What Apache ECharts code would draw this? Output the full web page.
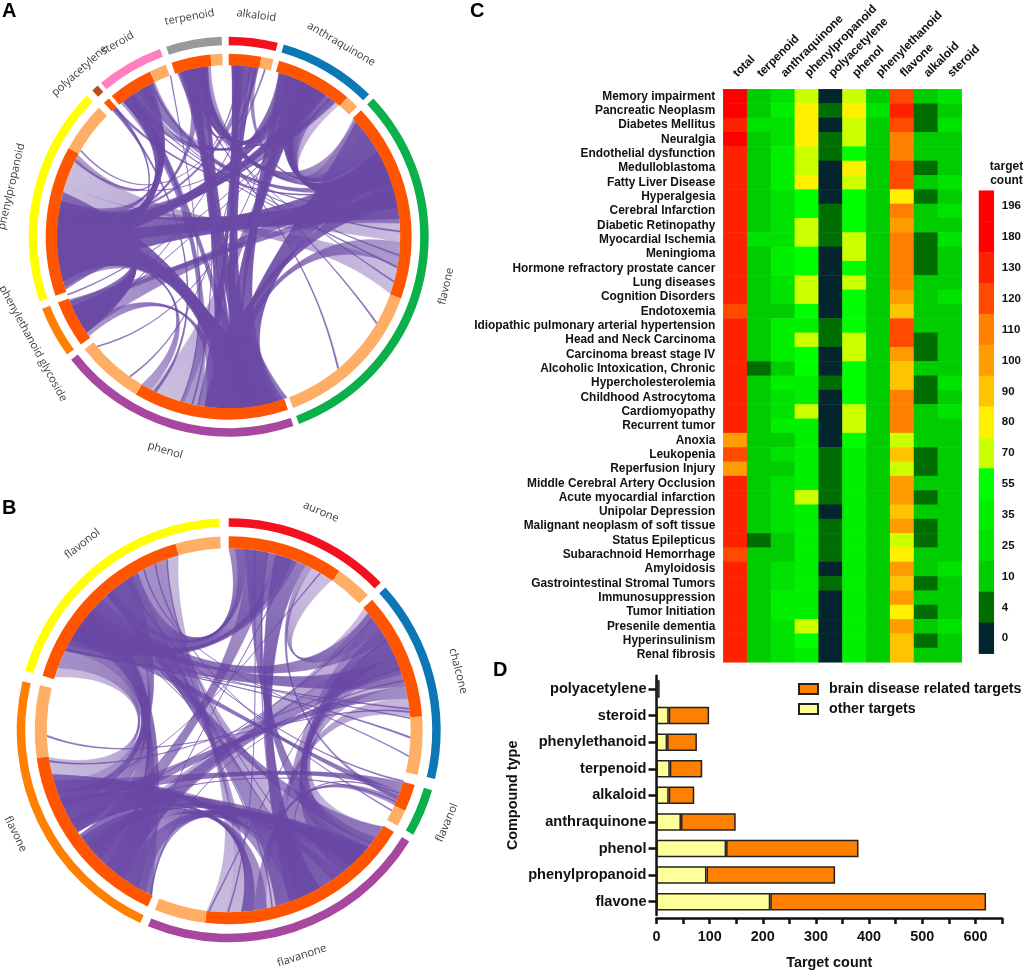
<!DOCTYPE html>
<html><head><meta charset="utf-8">
<style>html,body{margin:0;padding:0;background:#fff}#c{width:1024px;height:971px}</style>
<script src="https://cdn.jsdelivr.net/npm/echarts@6/dist/echarts.min.js"></script>
</head><body><div id="c"></div>
<script>
// ---- Panel A / B rings: spans read in degrees of the ring, clockwise from 12 o'clock
const groupsA = ['alkaloid','anthraquinone','flavone','phenol','phenylethanoid glycoside','phenylpropanoid','polyacetylene','steroid','terpenoid'];
const brainSpanA = [10.3,24.4,63.4,49.4,15,47.8,2.1,14.2,12.5];
const otherSpanA = [3.9,4.2,49.7,21.5,0,15.8,0,5.4,3.7];
const gapSpanA = [1.8,1.7,1.7,1.9,2.3,2.2,1.2,1.9,2];
const colorsA = ['#f5101f','#0b78b5','#0bb04a','#a8479f','#ff7f00','#ffff00','#b5501e','#ff7fc0','#999999'];

const groupsB = ['aurone','chalcone','flavanol','flavanone','flavone','flavonol'];
const brainSpanB = [34.8,38.2,8.1,65.4,57.1,57.8];
const otherSpanB = [11,17.4,5,15.4,21.6,13.4];
const gapSpanB = [1.9,3.1,2.1,2.3,2.9,2.5];
const colorsB = ['#f5101f','#0b78b5','#0bb04a','#a8479f','#ff7f00','#ffff00'];

// Shared-target ribbons: [from start, from end, to start, to end, density 1-3], read by eye
const linksA = [
 [46.5,52,34,40,1],[52,58,26,34,2],[58,61,8,10,2],[61,65,349,354,2],[65,69,329,334.5,2],[69,70,318,319,3],
 [70,85.5,264,282,3],[85.5,92,282,288,1],[92,100,172,180,2],[100,109.5,288,297,1],
 [47,60,345,352,2],[60,72,20,30,3],[72,80,182,188,3],
 [48,70,163,182,3],[62,84,256,272,3],[28,38,268,280,2],[18,30,345,352,2],[345,353,160,172,3],[2,9,165,178,3],
 [322,333,255,270,3],[255,262,165,172,3],[236,248,262,272,3],[236,246,60,70,2],[260,285,168,178,3],[22,36,60,72,2],
 [17,26,161.5,172,3],[180,186,343,348,3],[186,190,1,5,3],[190,196,321,326,2],[195,207,26,30,1],
 [207,210.5,253,257,2],[234.5,239,182,188,2],[239,244,258,264,3],[244,248.5,74,80,2],
 [264,270,28,34,3],[270,274,345,349,2],[274,277,5,8,2],[277,282,326,330,2],[296.5,298.5,330,332,2],
 [329,334,30,34,1],[350,353,36,38,2],[342.5,345,9,10,2],[323,327,20,24,2],[252,262,236,246,3],[255,275,166,184,3],
 [17,24,265,275,3],[22,30,172,182,3],[1,4,170,176,3],[344,348,174,180,3],[322,326,170,176,2],[262,270,174,182,3],
 [347,347.6,165,165.6,3],[352,352.5,192,192.5,3],[322,322.6,100,100.6,3],[325,325.5,88,88.5,3],[333,333.6,78,78.6,3],
 [317.3,318.3,205,206,3],[318,319,255,256,3],[38,38.5,272,272.5,3],[36,36.5,240,240.5,3],[9,9.5,215,215.5,3],
 [3,3.5,300,300.5,3],[31,31.5,268,268.5,3],[344,344.6,140,140.6,3],[346,346.5,105,105.5,3],[328,328.5,96,96.5,3],
 [350,350.6,120,120.6,3],[7,7.5,190,190.5,3],[12,12.5,238,238.5,3],[25,25.5,296,296.5,3],[351,351.5,176,176.5,3],
 [340,340.3,196,196.3,3],[20,20.4,230,230.4,3],[34,34.4,250,250.4,3]
];
const linksB = [
 [0,5,318,330,2],[5,15,225,235,2],[15,25,150,160,3],[25,27,111,112.5,2],[27,34.5,48,56,1],
 [56,66,128,142,2],[66,76,296,312,2],[76,80,238,246,2],[80,85.7,160,168,1],
 [106.6,109.5,246,254,2],[109.5,112,300,306,2],[112,114.3,168,172,2],
 [142,156,207,222,2],[156,165,250,256,2],[168,176,222,232,2],[122,128,312,320,2],[176,181,330,338,1],[181,187,338,344,1],
 [254,261.5,287,296,1],[245,254,320,328,2],[222,235,300,312,2],[205,222,296,310,2],
 [50,60,305,316,2],[60,72,215,228,2],[130,145,236,248,2],[150,165,318,330,2],[5,12,126,136,2],[15,22,298,306,2],
 [236,240,172,176,3],[228,234,132,138,3],
 [290,300,210,222,1],[300,320,236,250,2],[320,340,130,150,1],[205,215,130,140,2],[215,230,50,60,1],[240,256,140,160,1],
 [52,70,140,158,1],[2,20,300,320,2],[122,140,60,76,1],
 [296,296.6,92,92.6,3],[302,302.4,86,86.4,3],[310,310.4,128,128.4,3],[336,336.4,116,116.4,3],[332,332.4,98,98.4,3],
 [20,20.4,210,210.4,3],[8,8.4,180,180.4,3],[30,30.4,250,250.4,3],[70,70.5,260,260.5,3],[83,83.5,296,296.5,3],
 [84,84.5,268,268.5,3],[60,60.4,186,186.4,3],[74,74.4,205,205.4,3],[110,110.4,150,150.4,3],[113,113.4,240,240.4,3],
 [12,12.5,160,160.5,3],[52,52.4,240,240.4,3],[326,326.5,106,106.5,3],[340,340.4,145,145.4,3],[318,318.4,166,166.4,3]
];

// ---- Panel C heat map
const diseases = ['Memory impairment','Pancreatic Neoplasm','Diabetes Mellitus','Neuralgia','Endothelial dysfunction','Medulloblastoma','Fatty Liver Disease','Hyperalgesia','Cerebral Infarction','Diabetic Retinopathy','Myocardial Ischemia','Meningioma','Hormone refractory prostate cancer','Lung diseases','Cognition Disorders','Endotoxemia','Idiopathic pulmonary arterial hypertension','Head and Neck Carcinoma','Carcinoma breast stage IV','Alcoholic Intoxication, Chronic','Hypercholesterolemia','Childhood Astrocytoma','Cardiomyopathy','Recurrent tumor','Anoxia','Leukopenia','Reperfusion Injury','Middle Cerebral Artery Occlusion','Acute myocardial infarction','Unipolar Depression','Malignant neoplasm of soft tissue','Status Epilepticus','Subarachnoid Hemorrhage','Amyloidosis','Gastrointestinal Stromal Tumors','Immunosuppression','Tumor Initiation','Presenile dementia','Hyperinsulinism','Renal fibrosis'];
const heatColumns = ['total','terpenoid','anthraquinone','phenylpropanoid','polyacetylene','phenol','phenylethanoid','flavone','alkaloid','steroid'];
const total = [196,196,130,180,130,130,130,130,130,130,130,130,130,130,130,120,130,130,130,130,130,130,130,130,100,120,100,130,130,130,130,130,120,130,130,130,130,130,130,130];
const terpenoid = [10,10,25,10,10,10,10,10,10,10,25,10,10,10,10,10,10,10,10,4,10,10,10,10,10,10,10,10,10,10,10,4,10,10,10,10,10,10,10,10];
const anthraquinone = [25,35,25,25,35,35,35,25,25,25,25,35,35,25,25,10,35,35,35,10,35,25,25,35,10,25,10,25,25,25,25,10,10,25,25,35,35,25,25,25];
const phenylpropanoid = [70,80,80,80,70,70,80,55,55,70,70,55,55,70,70,55,35,70,55,55,35,35,70,35,35,35,35,35,70,35,35,35,35,35,35,35,35,70,55,35];
const polyacetylene = [0,4,0,4,4,0,0,0,4,4,4,0,0,0,0,0,4,4,0,0,4,0,0,0,0,4,4,4,4,0,4,4,4,0,4,0,0,0,0,0];
const phenol = [70,80,70,70,55,80,70,55,55,55,70,70,55,70,55,55,55,70,70,55,55,55,70,70,55,35,35,35,35,35,35,35,35,35,35,35,35,35,35,35];
const phenylethanoid = [10,25,10,10,10,10,10,10,10,10,10,10,10,10,10,10,10,10,10,10,10,10,10,10,10,10,10,10,10,10,10,10,10,10,10,10,10,10,10,10];
const flavone = [120,130,120,110,110,120,120,80,110,100,110,110,110,110,100,90,120,120,100,90,90,110,110,110,70,90,70,100,100,90,100,70,80,100,90,100,80,100,90,90];
const alkaloid = [10,4,4,10,10,4,10,4,10,10,4,4,4,10,10,10,10,4,4,10,4,4,10,10,10,4,4,10,4,10,4,4,10,10,4,10,4,10,4,10];
const steroid = [25,10,25,10,10,10,25,10,25,10,25,10,10,10,25,10,10,10,10,10,25,10,25,10,10,10,10,10,10,10,10,10,10,25,10,10,10,25,10,10];
const heatValues = [total,terpenoid,anthraquinone,phenylpropanoid,polyacetylene,phenol,phenylethanoid,flavone,alkaloid,steroid];
const levelLabels = [196,180,130,120,110,100,90,80,70,55,35,25,10,4,0];
const levelColors = ['#ff0000','#ff0000','#ff2200','#ff4a00','#ff8000','#ff9c00','#ffc400','#fff000','#ccff00','#00ff00','#00f000','#00e200','#00cc00','#006e00','#03262e'];

// ---- Panel D bars
const compoundTypes = ['flavone','phenylpropanoid','phenol','anthraquinone','alkaloid','terpenoid','phenylethanoid','steroid','polyacetylene'];
const otherTargets = [214,94,131,46,23,25,20,23,0];
const brainTargets = [406,242,249,103,48,61,56,76,6];

const LBL = '"Liberation Sans",Arial,sans-serif';
const ORANGE = '#ff5500', LIGHT = '#ffae66', PURPLE = '#6a4aa6';

function outerRing(names, brain, other, gap, colors) {
  const d = [];
  names.forEach((n,i)=>{
    d.push({name:n, value:brain[i]+other[i], itemStyle:{color:colors[i]}});
    d.push({name:'', value:gap[i], itemStyle:{color:'rgba(0,0,0,0)'}});
  });
  return d;
}
function innerRing(names, brain, other, gap) {
  const d = [];
  names.forEach((n,i)=>{
    d.push({name:n+' brain', value:brain[i], itemStyle:{color:ORANGE}});
    if (other[i]>0) d.push({name:n+' other', value:other[i], itemStyle:{color:LIGHT}});
    d.push({name:'', value:gap[i], itemStyle:{color:'rgba(0,0,0,0)'}});
  });
  return d;
}
function pie(center, radius, data, extra) {
  return Object.assign({type:'pie', center, radius, data, startAngle:90, clockwise:true, silent:true,
    label:{show:false}, labelLine:{show:false}, avoidLabelOverlap:false, minAngle:0, stillShowZeroSum:false,
    emphasis:{disabled:true}}, extra||{});
}
function labelRing(center, r, names, brain, other, gap, size) {
  const data = outerRing(names, brain, other, gap, names.map(()=> 'rgba(0,0,0,0)')).map(o=>({
    name:o.name, value:o.value, itemStyle:{color:'rgba(0,0,0,0)'},
    label:{show:!!o.name}
  }));
  return pie(center, [r-1,r+1], data, {labelLayout:{hideOverlap:false}, label:{show:true, position:'inside', rotate:'tangential',
    formatter:'{b}', color:'#3c3c3c', fontFamily:'"Open Sans",sans-serif', fontSize:size}});
}
// midpoint of the brain-related arc of the group holding an angle
function hubsOf(brain, other, gap) {
  const out=[]; let s=0;
  brain.forEach((b,i)=>{ const e=s+b+other[i]; out.push({s, e, mid:s+b/2}); s=e+gap[i]; });
  return a=>{ for(const h of out){ if(a>=h.s-0.5 && a<=h.e+0.5) return h.mid; } return a; };
}
function ribbons(links, polarIndex, R, hub) {
  return {type:'custom', coordinateSystem:'polar', polarIndex, data:links, silent:true, clip:false, z:1,
    renderItem(params, api){
      const a0=api.value(0), a1=api.value(1), b0=api.value(2), b1=api.value(3), den=api.value(4);
      const P=(a,r)=>{const p=api.coord([r===undefined?R:r,a]);return p[0].toFixed(2)+' '+p[1].toFixed(2);};
      const H=R*0.45;
      const Ca=P(hub((a0+a1)/2),H), Cb=P(hub((b0+b1)/2),H);
      const fill='M'+P(a0)+'A'+R+' '+R+' 0 0 1 '+P(a1)+'C'+Ca+' '+Cb+' '+P(b0)+'A'+R+' '+R+' 0 0 1 '+P(b1)+'C'+Cb+' '+Ca+' '+P(a0)+'Z';
      const n=Math.max(2,Math.ceil(Math.max(a1-a0,b1-b0)/0.3));
      let lines='';
      for(let i=0;i<=n;i++){const t=i/n;lines+='M'+P(a0+t*(a1-a0))+'C'+Ca+' '+Cb+' '+P(b1-t*(b1-b0));}
      const fo=[0,0.3,0.46,0.66][den], so=[0,0.25,0.45,0.7][den];
      return {type:'group',children:[
        {type:'path',shape:{pathData:fill},style:{fill:PURPLE,opacity:fo}},
        {type:'path',shape:{pathData:lines},style:{fill:'none',stroke:PURPLE,lineWidth:0.35,opacity:so}}
      ]};
    }};
}
const hidden = {show:false};
const cA=[228.7,236.7], cB=[228.7,730.3];
const heatData = [];
heatValues.forEach((col,x)=>col.forEach((v,y)=>heatData.push([x,y,v])));
const letter = (t,l,tp)=>({text:t,left:l,top:tp,textStyle:{fontFamily:LBL,fontWeight:'bold',fontSize:20,color:'#000'},padding:0});
const barStyle = {borderColor:'#222',borderWidth:1.5};

const option = {
  animation:false, backgroundColor:'#fff',
  title:[letter('A',2,1),letter('B',2,498),letter('C',470,1),letter('D',493,660),
    {text:'target\ncount',left:1006.5,top:160,textAlign:'center',padding:0,
     textStyle:{fontFamily:LBL,fontWeight:'bold',fontSize:12,lineHeight:14,color:'#111'}}],
  polar:[{center:cA,radius:200},{center:cB,radius:212}],
  radiusAxis:[{polarIndex:0,min:0,max:200,show:false},{polarIndex:1,min:0,max:212,show:false}],
  angleAxis:[{polarIndex:0,min:0,max:360,startAngle:90,clockwise:true,show:false},{polarIndex:1,min:0,max:360,startAngle:90,clockwise:true,show:false}],
  grid:[
    {left:723.3,top:89.3,width:238.4,height:573},
    {left:979,top:190.7,width:16.3,height:463},
    {left:656.5,top:675.7,width:345.5,height:239.4}
  ],
  xAxis:[
    {gridIndex:0,type:'category',data:heatColumns,position:'top',axisLine:hidden,axisTick:hidden,splitLine:hidden,
     axisLabel:{rotate:-45,margin:14,interval:0,fontFamily:LBL,fontWeight:'bold',fontSize:11.9,color:'#111'}},
    {gridIndex:1,type:'category',data:['level'],show:false},
    {gridIndex:2,type:'value',min:0,max:650,interval:50,offset:3,splitLine:hidden,
     name:'Target count',nameLocation:'middle',nameGap:38,
     nameTextStyle:{fontFamily:LBL,fontWeight:'bold',fontSize:14.4,color:'#111'},
     axisLine:{show:true,lineStyle:{color:'#111',width:2.5}},
     axisTick:{show:true,length:6,lineStyle:{color:'#111',width:2.5}},
     axisLabel:{margin:12,fontFamily:LBL,fontWeight:'bold',fontSize:14.4,color:'#111',
       formatter:v=>v%100===0?String(v):''}}
  ],
  yAxis:[
    {gridIndex:0,type:'category',data:diseases,inverse:true,axisLine:hidden,axisTick:hidden,splitLine:hidden,
     axisLabel:{margin:8,interval:0,fontFamily:LBL,fontWeight:'bold',fontSize:11.9,color:'#111'}},
    {gridIndex:1,type:'category',data:levelLabels.map(String),inverse:true,position:'right',axisLine:hidden,splitLine:hidden,
     axisTick:{show:true,alignWithLabel:true,inside:true,length:3,lineStyle:{color:'#fff',width:1}},
     axisLabel:{margin:8,interval:0,fontFamily:LBL,fontWeight:'bold',fontSize:11.5,color:'#111'}},
    {gridIndex:1,type:'category',data:levelLabels.map(String),inverse:true,position:'left',axisLine:hidden,splitLine:hidden,
     axisTick:{show:true,alignWithLabel:true,inside:true,length:3,lineStyle:{color:'#fff',width:1}},
     axisLabel:{show:false}},
    {gridIndex:2,type:'category',data:compoundTypes,
     name:'Compound type',nameLocation:'middle',nameGap:136,nameRotate:90,
     nameTextStyle:{fontFamily:LBL,fontWeight:'bold',fontSize:14.4,color:'#111'},
     axisLine:{show:true,lineStyle:{color:'#111',width:2.5}},
     axisTick:{show:true,alignWithLabel:true,length:8,lineStyle:{color:'#111',width:2.5}},
     axisLabel:{margin:10,interval:0,fontFamily:LBL,fontWeight:'bold',fontSize:14.6,color:'#111'}}
  ],
  visualMap:{type:'piecewise',show:false,seriesIndex:[0,1],dimension:2,
    pieces:levelLabels.map((v,i)=>({value:v,color:levelColors[i]}))},
  legend:{left:798,top:682,orient:'vertical',padding:0,icon:'rect',itemWidth:19,itemHeight:10,itemGap:6,
    data:['brain disease related targets','other targets'],
    textStyle:{fontFamily:LBL,fontWeight:'bold',fontSize:14.2,color:'#111',padding:[0,0,0,6]}},
  series:[
    {type:'heatmap',xAxisIndex:0,yAxisIndex:0,data:heatData,silent:true,itemStyle:{borderWidth:0}},
    {type:'heatmap',xAxisIndex:1,yAxisIndex:1,data:levelLabels.map((v,i)=>[0,i,v]),silent:true},
    {type:'bar',name:'other targets',xAxisIndex:2,yAxisIndex:3,stack:'t',data:otherTargets,barWidth:17.5,silent:true,
     itemStyle:Object.assign({color:'#ffff99'},barStyle)},
    {type:'bar',name:'brain disease related targets',xAxisIndex:2,yAxisIndex:3,stack:'t',data:brainTargets,barWidth:17.5,silent:true,
     itemStyle:Object.assign({color:'#ff8000'},barStyle)},
    ribbons(linksA,0,171.5,hubsOf(brainSpanA,otherSpanA,gapSpanA)),
    ribbons(linksB,1,182,hubsOf(brainSpanB,otherSpanB,gapSpanB)),
    pie(cA,[191.5,200],outerRing(groupsA,brainSpanA,otherSpanA,gapSpanA,colorsA)),
    pie(cA,[171.5,183],innerRing(groupsA,brainSpanA,otherSpanA,gapSpanA)),
    labelRing(cA,220,groupsA,brainSpanA,otherSpanA,gapSpanA,11),
    pie(cB,[203.5,212],outerRing(groupsB,brainSpanB,otherSpanB,gapSpanB,colorsB)),
    pie(cB,[182,194],innerRing(groupsB,brainSpanB,otherSpanB,gapSpanB)),
    labelRing(cB,234,groupsB,brainSpanB,otherSpanB,gapSpanB,11.2)
  ]
};
echarts.init(document.getElementById('c'),null,{renderer:'canvas'}).setOption(option);
</script></body></html>
